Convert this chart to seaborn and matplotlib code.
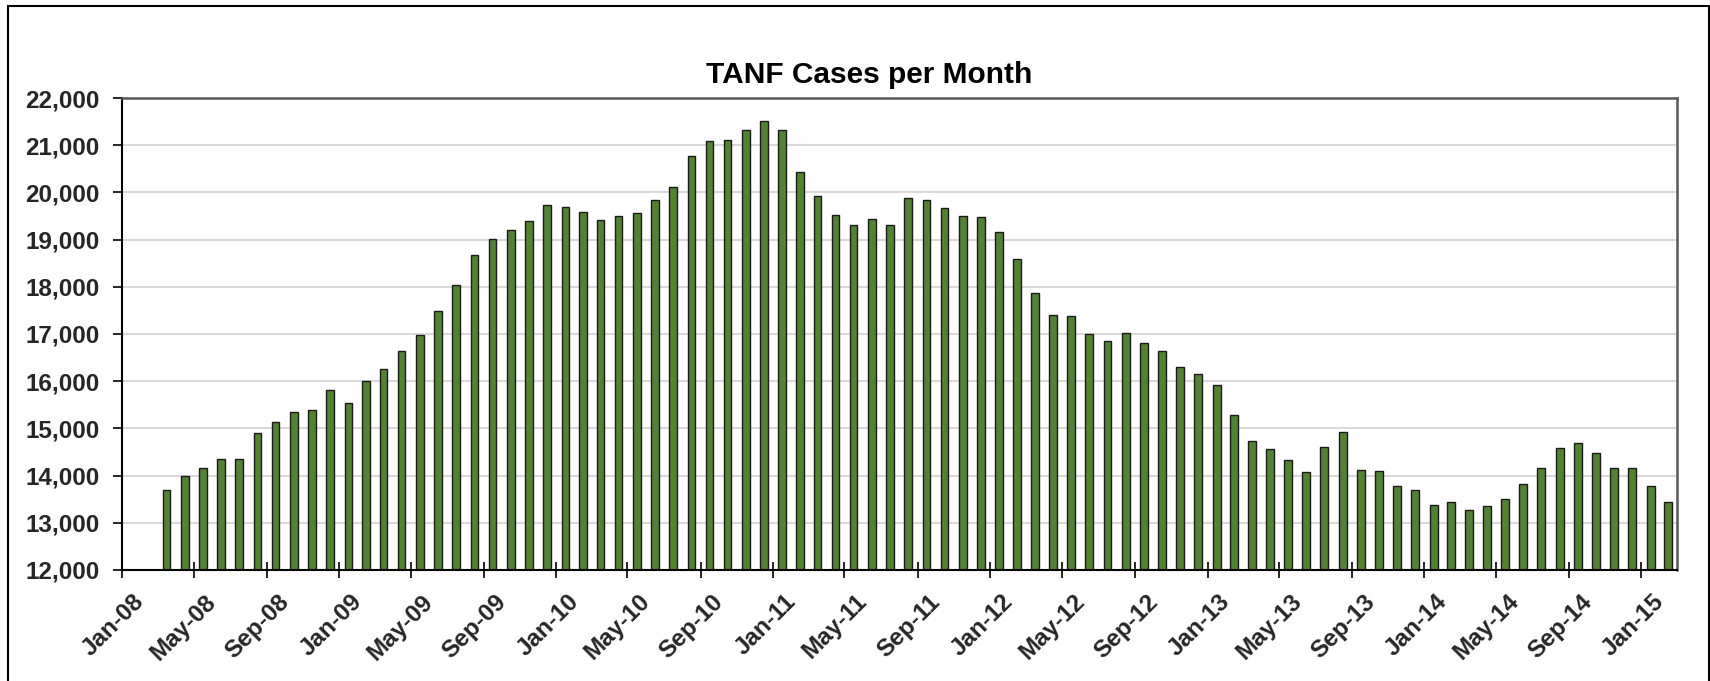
import matplotlib
matplotlib.use("Agg")
import matplotlib.pyplot as plt
import matplotlib.dates as mdates
from matplotlib.ticker import StrMethodFormatter, FixedLocator
from matplotlib.transforms import ScaledTranslation
from matplotlib.lines import Line2D
import seaborn as sns
import pandas as pd
import numpy as np

# ---- data ----
first_month = "2008-03-01"
cases = [
    # 2008 (Mar-Dec)
    13695, 13990, 14160, 14360, 14360, 14900, 15135, 15340, 15390, 15820,
    # 2009
    15540, 16000, 16260, 16630, 16980, 17490, 18040, 18670, 19010, 19195, 19390, 19730,
    # 2010
    19700, 19590, 19410, 19500, 19555, 19845, 20110, 20770, 21080, 21110, 21315, 21510,
    # 2011
    21315, 20425, 19930, 19530, 19300, 19440, 19300, 19875, 19845, 19675, 19500, 19470,
    # 2012
    19160, 18580, 17860, 17410, 17380, 17005, 16860, 17030, 16800, 16630, 16310, 16145,
    # 2013
    15910, 15275, 14730, 14565, 14330, 14070, 14615, 14930, 14125, 14100, 13790, 13695,
    # 2014
    13385, 13440, 13265, 13355, 13500, 13815, 14160, 14590, 14700, 14470, 14160, 14160,
    # 2015 (Jan-Feb)
    13790, 13440,
]
title = "TANF Cases per Month"
y_ticks = [12000, 13000, 14000, 15000, 16000, 17000, 18000, 19000, 20000, 21000, 22000]
x_start, x_end = "2008-01-01", "2015-03-01"

# ---- build table ----
months = pd.date_range(first_month, periods=len(cases), freq="MS")
next_months = months + pd.offsets.MonthBegin(1)
mids = months + (next_months - months) / 2
df = pd.DataFrame({"x": mdates.date2num(mids.to_pydatetime()), "cases": cases})

W, H = 1710, 681
fig = plt.figure(figsize=(W / 100, H / 100), dpi=100)
sns.set_style("white")
plt.rcParams["font.family"] = ["Liberation Sans", "DejaVu Sans"]

left, right, top, bottom = 121.7, 1676.5, 98, 570
ax = fig.add_axes([left / W, 1 - bottom / H, (right - left) / W, (bottom - top) / H])

sns.barplot(data=df, x="x", y="cases", native_scale=True, width=0.44,
            color="#548235", saturation=1, edgecolor="#1a1a1a", linewidth=1.0,
            errorbar=None, ax=ax)

ax.set_xlim(mdates.datestr2num(x_start), mdates.datestr2num(x_end))
ax.set_ylim(y_ticks[0], y_ticks[-1])
ax.yaxis.set_major_locator(FixedLocator(y_ticks))
ax.yaxis.set_major_formatter(StrMethodFormatter("{x:,.0f}"))
ax.xaxis.set_major_locator(mdates.MonthLocator(bymonth=[1, 5, 9]))
ax.xaxis.set_major_formatter(mdates.DateFormatter("%b-%y"))
ax.set_xlabel("")
ax.set_ylabel("")

ax.yaxis.grid(True, color="#d9d9d9", linewidth=1.5)
ax.xaxis.grid(False)
ax.set_axisbelow(True)

for s in ["left", "bottom"]:
    ax.spines[s].set_color("black")
    ax.spines[s].set_linewidth(1.5)
for s in ["top", "right"]:
    ax.spines[s].set_color("#595959")
    ax.spines[s].set_linewidth(1.8)

ax.tick_params(axis="y", direction="out", length=6.5, width=1.2, color="black",
               pad=9.5, labelsize=17.5, left=True)
ax.tick_params(axis="x", direction="inout", length=11, width=1.2, color="black",
               pad=9, labelsize=17.5, bottom=True)
for lab in ax.get_yticklabels():
    lab.set_fontweight("bold")
offset = ScaledTranslation(0.11, 0, fig.dpi_scale_trans)
for lab in ax.get_xticklabels():
    lab.set_fontweight("bold")
    lab.set_rotation(45)
    lab.set_ha("right")
    lab.set_va("top")
    lab.set_rotation_mode("anchor")
    lab.set_transform(lab.get_transform() + offset)

fig.text(869 / W, 1 - 83 / H, title, ha="center", va="baseline",
         fontsize=21.5, fontweight="bold", color="black")

# chart-area border
bx0, by0, bx1 = 7.5 / W, 1 - 5.5 / H, 1708.5 / W
for xs, ys in [([bx0, bx0], [0, by0]), ([bx0, bx1], [by0, by0]), ([bx1, bx1], [0, by0])]:
    fig.add_artist(Line2D(xs, ys, transform=fig.transFigure, color="black", linewidth=1.5))

fig.savefig("out.png", dpi=100, facecolor="white")
